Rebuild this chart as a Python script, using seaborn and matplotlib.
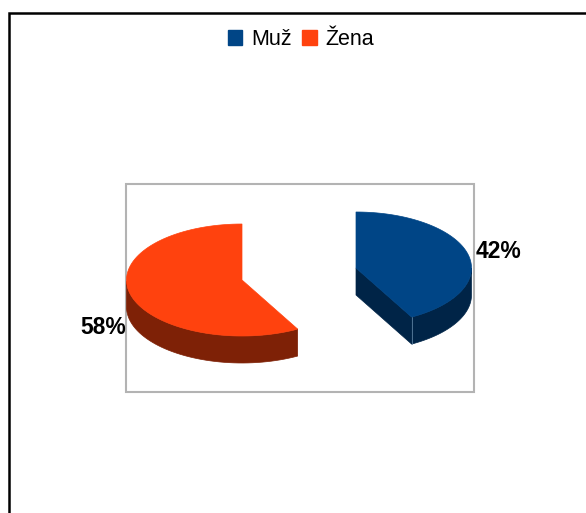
import numpy as np
import seaborn as sns
import matplotlib
matplotlib.use("Agg")
import matplotlib.pyplot as plt
from matplotlib.patches import Patch, Polygon, Rectangle

# data
labels = ["Muž", "Žena"]
shares = [42, 58]
top_colors = ["#004586", "#ff420e"]
side_colors = ["#002447", "#7e2106"]

# 3d pie geometry in image pixels
centers = [(356, 268), (242, 280)]
rx, ry = 115.5, 56
depth = 27

sns.set_theme(style="white")
plt.rcParams["font.family"] = ["Liberation Sans", "DejaVu Sans"]

fig = plt.figure(figsize=(5.86, 5.13), dpi=100)
ax = fig.add_axes([0, 0, 1, 1])
ax.set_xlim(0, 586)
ax.set_ylim(513, 0)
ax.axis("off")


def rim(cx, cy, a0, a1):
    # angles in degrees, 0 = right, 90 = up on screen
    t = np.radians(np.linspace(a0, a1, 90))
    return np.column_stack([cx + rx * np.cos(t), cy - ry * np.sin(t)])


# outer frame, only left and top show
ax.plot([9, 9, 586], [513, 12.5, 12.5], color="black", lw=1.8, solid_joinstyle="miter")
# plot area
ax.add_patch(Rectangle((126, 184), 348, 208, fill=False, ec="#b3b3b3", lw=1.5))

# slices go clockwise from 12 o'clock
start = 90
for i, share in enumerate(shares):
    end = start - share * 3.6
    cx, cy = centers[i]
    arc = rim(cx, cy, start, end)

    # visible wall is the part of the rim on the front half
    front = arc[(arc[:, 1] >= cy - 0.01)]
    wall = np.vstack([front, front[::-1] + [0, depth]])
    ax.add_patch(Polygon(wall, fc=side_colors[i], ec=side_colors[i], lw=0.5))

    if i == 0:
        # cut face seen from the front on the first slice
        edge = arc[-1]
        face = [(cx, cy), edge, edge + [0, depth], (cx, cy + depth)]
        ax.add_patch(Polygon(face, fc=side_colors[i], ec=side_colors[i], lw=0.5))
        ax.plot([edge[0], edge[0]], [edge[1], edge[1] + depth], color="#5b7f9f", lw=0.6)

    top = np.vstack([[cx, cy], arc])
    ax.add_patch(Polygon(top, fc=top_colors[i], ec=top_colors[i], lw=0.5))
    start = end

ax.text(476, 252, f"{shares[0]}%", fontsize=16.5, fontweight="bold", color="black",
        ha="left", va="center")
ax.text(126, 328, f"{shares[1]}%", fontsize=16.5, fontweight="bold", color="black",
        ha="right", va="center")

handles = [Patch(fc=c, ec=c) for c in top_colors]
ax.legend(handles, labels, loc="center", bbox_to_anchor=(301 / 586, 1 - 39.5 / 513),
          ncol=2, frameon=False, fontsize=15.5, labelcolor="black", handlelength=0.66,
          handleheight=0.66, handletextpad=0.42, columnspacing=0.5, borderpad=0)

fig.savefig("out.png", dpi=100, facecolor="white")
plt.close(fig)
